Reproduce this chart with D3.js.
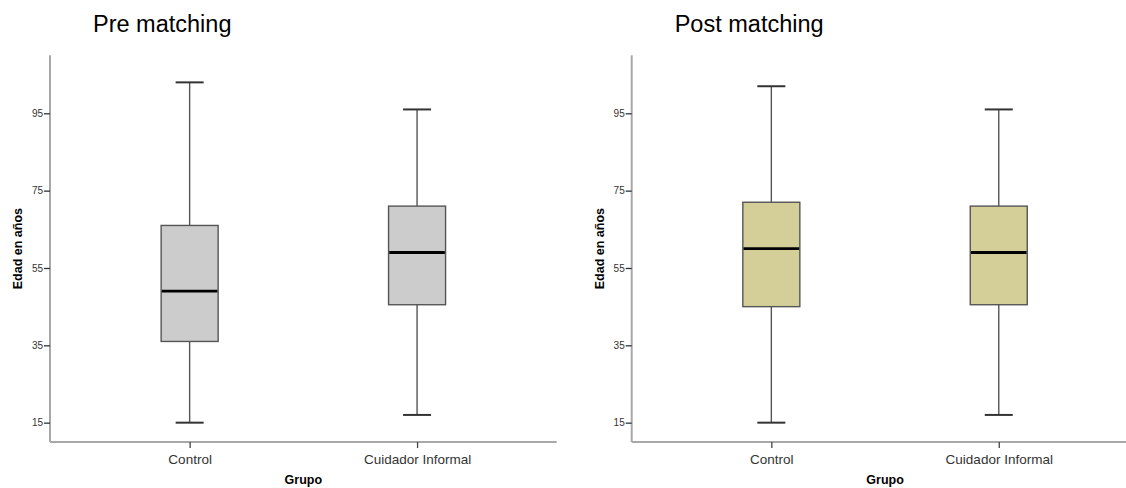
<!DOCTYPE html>
<html>
<head>
<meta charset="utf-8">
<script src="https://cdn.jsdelivr.net/npm/d3@7"></script>
<style>
  html, body { margin: 0; padding: 0; background: #fff; }
  svg { display: block; font-family: "Liberation Sans", Arial, sans-serif; }
</style>
</head>
<body>
<svg id="chart" width="1126" height="488"></svg>
<script>
// Age by group, before and after matching (box plot summaries)
const categories = ["Control", "Cuidador Informal"];
const yTicks = [15, 35, 55, 75, 95];

const preMin    = [15, 17];
const preQ1     = [36, 45.5];
const preMedian = [49, 59];
const preQ3     = [66, 71];
const preMax    = [103, 96];

const postMin    = [15, 17];
const postQ1     = [45, 45.5];
const postMedian = [60, 59];
const postQ3     = [72, 71];
const postMax    = [102, 96];

const panels = [
  { title: "Pre matching", left: 50, min: preMin, q1: preQ1, med: preMedian, q3: preQ3, max: preMax, fill: "#cccccc" },
  { title: "Post matching", left: 631.7, min: postMin, q1: postQ1, med: postMedian, q3: postQ3, max: postMax, fill: "#d4cf98" }
];

const svg = d3.select("#chart");
const plotW = 506.7, plotTop = 55.3, plotBottom = 442;
const boxW = 57, capW = 28;

panels.forEach(p => {
  const g = svg.append("g");
  const x = d3.scalePoint().domain(categories).range([p.left, p.left + plotW]).padding(0.614);
  const y = d3.scaleLinear().domain([10, 110]).range([plotBottom, plotTop]);

  // title
  g.append("text").attr("x", p.left + 43).attr("y", 32)
    .attr("font-size", 23.5).attr("fill", "#000").text(p.title);

  // y axis
  const ya = g.append("g").attr("transform", `translate(${p.left},0)`)
    .call(d3.axisLeft(y).tickValues(yTicks).tickSize(6).tickPadding(1).tickFormat(d3.format("d")));
  ya.select(".domain").attr("stroke", "#a8a8a8").attr("stroke-width", 2).attr("d", `M0,${plotTop}V${plotBottom}`);
  ya.selectAll(".tick line").attr("stroke", "#333").attr("stroke-width", 1.3);
  ya.selectAll(".tick text").attr("fill", "#333").attr("font-size", 10)
    .attr("font-family", "'Liberation Sans', Arial, sans-serif");

  // x axis
  const xa = g.append("g").attr("transform", `translate(0,${plotBottom})`)
    .call(d3.axisBottom(x).tickSize(6).tickPadding(6));
  xa.select(".domain").attr("stroke", "#a8a8a8").attr("stroke-width", 2)
    .attr("d", `M${p.left},0H${p.left + plotW}`);
  xa.selectAll(".tick line").attr("stroke", "#444").attr("stroke-width", 1.3).attr("y1", 0);
  xa.selectAll(".tick text").attr("fill", "#333").attr("font-size", 13.5)
    .attr("font-family", "'Liberation Sans', Arial, sans-serif");

  // axis titles
  g.append("text")
    .attr("transform", `translate(${p.left - 32.5},${(plotTop + plotBottom) / 2}) rotate(-90)`)
    .attr("text-anchor", "middle").attr("dy", "0.35em")
    .attr("font-size", 12.5).attr("font-weight", "bold").attr("fill", "#000")
    .text("Edad en años");
  g.append("text")
    .attr("x", p.left + plotW / 2).attr("y", 484)
    .attr("text-anchor", "middle")
    .attr("font-size", 12.5).attr("font-weight", "bold").attr("fill", "#000")
    .text("Grupo");

  // boxes
  const idx = d3.range(categories.length);
  const b = g.selectAll(".box").data(idx).join("g").attr("class", "box");
  b.append("line")
    .attr("x1", i => x(categories[i])).attr("x2", i => x(categories[i]))
    .attr("y1", i => y(p.max[i])).attr("y2", i => y(p.q3[i]))
    .attr("stroke", "#555").attr("stroke-width", 1.4);
  b.append("line")
    .attr("x1", i => x(categories[i])).attr("x2", i => x(categories[i]))
    .attr("y1", i => y(p.q1[i])).attr("y2", i => y(p.min[i]))
    .attr("stroke", "#555").attr("stroke-width", 1.4);
  b.append("line")
    .attr("x1", i => x(categories[i]) - capW / 2).attr("x2", i => x(categories[i]) + capW / 2)
    .attr("y1", i => y(p.max[i])).attr("y2", i => y(p.max[i]))
    .attr("stroke", "#333").attr("stroke-width", 2);
  b.append("line")
    .attr("x1", i => x(categories[i]) - capW / 2).attr("x2", i => x(categories[i]) + capW / 2)
    .attr("y1", i => y(p.min[i])).attr("y2", i => y(p.min[i]))
    .attr("stroke", "#333").attr("stroke-width", 2);
  b.append("rect")
    .attr("x", i => x(categories[i]) - boxW / 2).attr("width", boxW)
    .attr("y", i => y(p.q3[i])).attr("height", i => y(p.q1[i]) - y(p.q3[i]))
    .attr("fill", p.fill).attr("stroke", "#555").attr("stroke-width", 1.4);
  b.append("line")
    .attr("x1", i => x(categories[i]) - boxW / 2 + 0.7).attr("x2", i => x(categories[i]) + boxW / 2 - 0.7)
    .attr("y1", i => y(p.med[i])).attr("y2", i => y(p.med[i]))
    .attr("stroke", "#000").attr("stroke-width", 2.8);
});
</script>
</body>
</html>
